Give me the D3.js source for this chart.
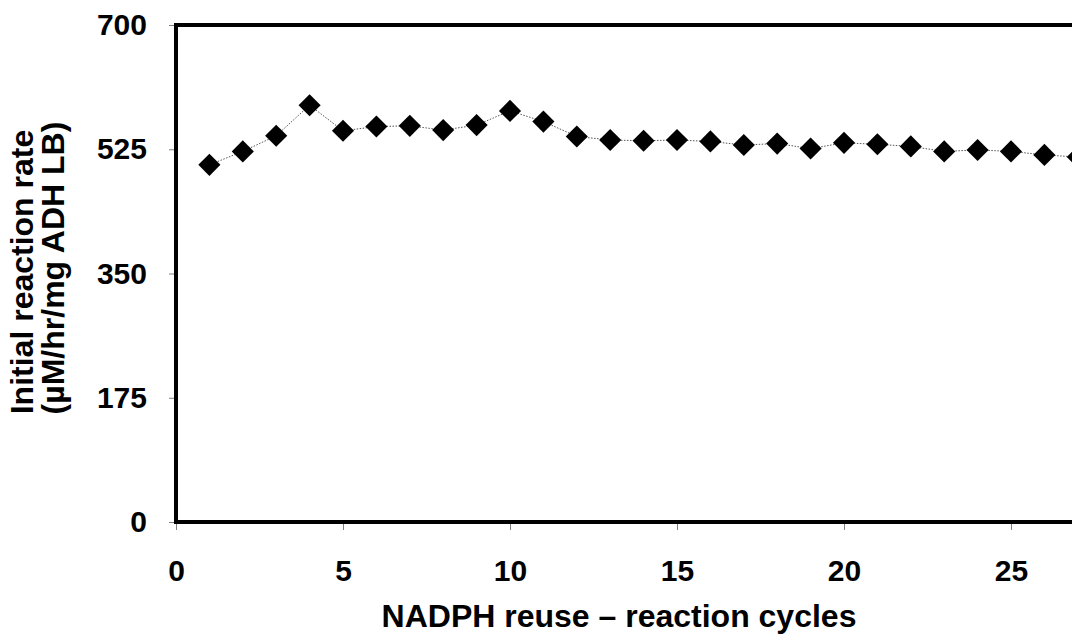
<!DOCTYPE html>
<html><head><meta charset="utf-8">
<script src="https://cdn.jsdelivr.net/npm/d3@7"></script>
<style>html,body{margin:0;padding:0;overflow:hidden;background:#fff;}svg{display:block;}</style>
</head><body>
<script>
const cycles = [1,2,3,4,5,6,7,8,9,10,11,12,13,14,15,16,17,18,19,20,21,22,23,24,25,26,27];
const rates = [503,522,544,587,551,557,558,552,559,579,564,543,538,537,538,536,531,533,526,534,532,529,522,524,522,517,514];
const yTicks = [0,175,350,525,700];
const xTicks = [0,5,10,15,20,25];
const xTitle = "NADPH reuse \u2013 reaction cycles";
const yTitle1 = "Initial reaction rate";
const yTitle2 = "(\u00b5M/hr/mg ADH LB)";

(function(){
const W = 1072, H = 640;
const svg = d3.select("body").append("svg").attr("width", W).attr("height", H);
const mLeft = 176, mTop = 25, mBottom = 522;
const x = d3.scaleLinear().domain([0,30]).range([mLeft, mLeft + 30*33.4]);
const y = d3.scaleLinear().domain([0,700]).range([mBottom, mTop]);
const font = "'Liberation Sans', Arial, sans-serif";

const yAxis = svg.append("g").attr("transform", `translate(${mLeft},0)`)
  .call(d3.axisLeft(y).tickValues(yTicks).tickSize(7).tickPadding(22).tickFormat(d3.format("d")));
const xAxis = svg.append("g").attr("transform", `translate(0,${mBottom})`)
  .call(d3.axisBottom(x).tickValues(xTicks).tickSize(8).tickPadding(30).tickFormat(d3.format("d")));
[yAxis, xAxis].forEach(g => {
  g.attr("font-size", null).attr("font-family", null);
  g.select(".domain").remove();
  g.selectAll(".tick line").attr("stroke", "#808080").attr("stroke-width", 1);
  g.selectAll(".tick text").attr("font-family", font).attr("font-weight", "bold")
    .style("font-size", "30px").attr("fill", "#000");
});

svg.append("rect").attr("x", x(0)).attr("y", y(700)).attr("width", x(30)-x(0)).attr("height", y(0)-y(700))
  .attr("fill", "none").attr("stroke", "#000").attr("stroke-width", 4);

const data = cycles.map((c,i) => ({c, v: rates[i]}));
svg.append("path").datum(data)
  .attr("d", d3.line().x(d => x(d.c)).y(d => y(d.v)))
  .attr("fill", "none").attr("stroke", "#555").attr("stroke-width", 1).attr("stroke-dasharray", "1.5,1.5");

svg.selectAll("path.pt").data(data).join("path").attr("class","pt")
  .attr("d", d3.symbol().type(d3.symbolSquare).size(245))
  .attr("transform", d => `translate(${x(d.c)},${y(d.v)}) rotate(45)`)
  .attr("fill", "#000");

svg.append("text").attr("x", 619).attr("y", 627).attr("text-anchor", "middle")
  .attr("font-family", font).attr("font-weight", "bold").style("font-size", "32px").text(xTitle);
svg.append("text").attr("transform", "translate(33,272) rotate(-90)").attr("text-anchor", "middle")
  .attr("font-family", font).attr("font-weight", "bold").style("font-size", "32px").text(yTitle1);
svg.append("text").attr("transform", "translate(64,268) rotate(-90)").attr("text-anchor", "middle")
  .attr("font-family", font).attr("font-weight", "bold").style("font-size", "32px").text(yTitle2);
})();
</script>
</body></html>
